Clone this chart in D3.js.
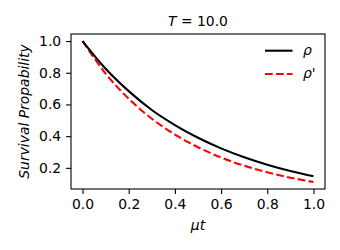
<!DOCTYPE html>
<html>
<head>
<meta charset="utf-8">
<script src="https://cdn.jsdelivr.net/npm/d3@7"></script>
<style>
  body { margin: 0; background: #fff; }
  text { font-family: "DejaVu Sans", sans-serif; }
</style>
</head>
<body>
<svg id="chart" width="340" height="250"></svg>
<script>
// values
var tValues = [0.0, 0.1, 0.2, 0.3, 0.4, 0.5, 0.6, 0.7, 0.8, 0.9, 1.0];
var rhoValues = [1.0, 0.825, 0.684, 0.565, 0.47, 0.39, 0.323, 0.267, 0.22, 0.18, 0.147];
var rhoPrimeValues = [1.0, 0.795, 0.636, 0.51, 0.41, 0.33, 0.265, 0.213, 0.172, 0.138, 0.111];
var xTicks = [0.0, 0.2, 0.4, 0.6, 0.8, 1.0];
var yTicks = [0.2, 0.4, 0.6, 0.8, 1.0];

var fs = 13.9; // 10pt at 100 dpi
var margin = {top: 34, right: 15, bottom: 61, left: 71},
    width = 340 - margin.left - margin.right,
    height = 250 - margin.top - margin.bottom;

var svg = d3.select("#chart");
var g = svg.append("g")
    .attr("transform", "translate(" + margin.left + "," + margin.top + ")");

// matplotlib style 5% margins
var x = d3.scaleLinear().domain([-0.05, 1.05]).range([0, width]);
var y = d3.scaleLinear().domain([0.0665, 1.0445]).range([height, 0]);

var xAxis = g.append("g")
    .attr("transform", "translate(0," + height + ")")
    .call(d3.axisBottom(x).tickValues(xTicks).tickFormat(d3.format(".1f")).tickSize(4.9).tickPadding(4.9));
var yAxis = g.append("g")
    .call(d3.axisLeft(y).tickValues(yTicks).tickFormat(d3.format(".1f")).tickSize(4.9).tickPadding(4.9));

[xAxis, yAxis].forEach(function(a) {
  a.select(".domain").remove();
  a.selectAll("text").attr("font-size", fs).attr("font-family", "DejaVu Sans").attr("fill", "#000");
  a.selectAll("line").attr("stroke", "#000").attr("stroke-width", 1.1);
});

// define the lines
var line = d3.line()
    .x(function(d, i) { return x(tValues[i]); })
    .y(function(d) { return y(d); })
    .curve(d3.curveMonotoneX);

g.append("path")
    .datum(rhoPrimeValues)
    .attr("fill", "none")
    .attr("stroke", "red")
    .attr("stroke-width", 2.1)
    .attr("stroke-dasharray", "7.7,3.3")
    .attr("d", line);

g.append("path")
    .datum(rhoValues)
    .attr("fill", "none")
    .attr("stroke", "black")
    .attr("stroke-width", 2.1)
    .attr("d", line);

// frame
g.append("rect")
    .attr("width", width).attr("height", height)
    .attr("fill", "none").attr("stroke", "#000").attr("stroke-width", 1.1);

// legend
var legend = [
  {label: "ρ", color: "black", dash: null, y: 16.7},
  {label: "ρ'", color: "red", dash: "7.7,3.3", y: 40}
];
legend.forEach(function(l) {
  g.append("line")
      .attr("x1", 194).attr("x2", 221.5)
      .attr("y1", l.y).attr("y2", l.y)
      .attr("stroke", l.color).attr("stroke-width", 2.1)
      .attr("stroke-dasharray", l.dash);
  g.append("text")
      .attr("x", 232).attr("y", l.y + 4)
      .attr("font-size", fs).attr("font-style", "italic")
      .text(l.label);
});

// title
var title = svg.append("text")
    .attr("x", margin.left + width / 2).attr("y", 25.5)
    .attr("text-anchor", "middle").attr("font-size", fs);
title.append("tspan").attr("font-style", "italic").text("T");
title.append("tspan").text(" = 10.0");

// axis labels
svg.append("text")
    .attr("x", margin.left + width / 2).attr("y", 230)
    .attr("text-anchor", "middle").attr("font-size", fs).attr("font-style", "italic")
    .text("μt");

svg.append("text")
    .attr("transform", "translate(28.5," + (margin.top + height / 2) + ") rotate(-90)")
    .attr("text-anchor", "middle").attr("font-size", fs).attr("font-style", "italic")
    .text("Survival Propability");
</script>
</body>
</html>
